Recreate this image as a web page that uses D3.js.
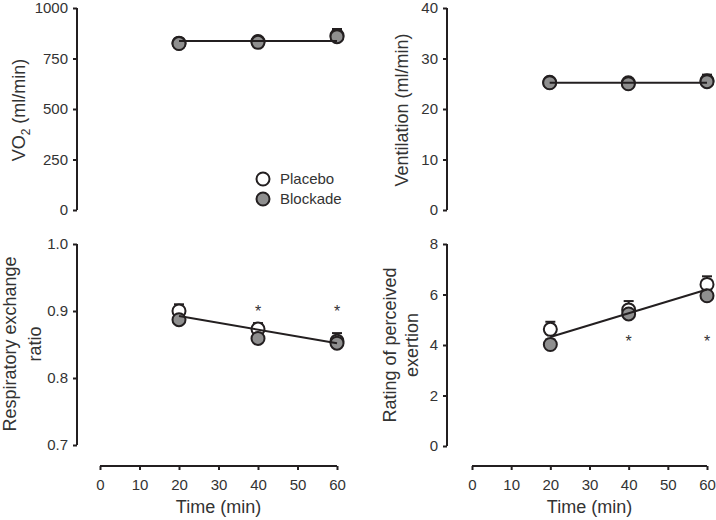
<!DOCTYPE html>
<html><head><meta charset="utf-8">
<script src="https://cdn.jsdelivr.net/npm/d3@7"></script>
<style>body{margin:0;background:#fff}svg{display:block}</style>
</head><body>
<svg id="c" width="716" height="520"></svg>
<script>
const times = [20, 40, 60];
const xTicks = [0, 10, 20, 30, 40, 50, 60];

const vo2Placebo = [826, 834, 864];
const vo2PlaceboSem = [22, 22, 32];
const vo2Blockade = [824, 830, 858];
const vo2BlockadeSem = [12, 12, 18];
const vo2Trend = [837, 837];
const vo2Ticks = [0, 250, 500, 750, 1000];

const vePlacebo = [25.3, 25.2, 25.6];
const vePlaceboSem = [0.5, 0.5, 1.2];
const veBlockade = [25.2, 25.0, 25.4];
const veBlockadeSem = [0.4, 0.4, 0.8];
const veTrend = [25.2, 25.2];
const veTicks = [0, 10, 20, 30, 40];

const rerPlacebo = [0.900, 0.873, 0.855];
const rerPlaceboSem = [0.010, 0.009, 0.012];
const rerBlockade = [0.887, 0.859, 0.852];
const rerBlockadeSem = [0.005, 0.005, 0.006];
const rerTrend = [0.8925, 0.852];
const rerTicks = [0.7, 0.8, 0.9, 1.0];
const rerStars = [40, 60];
const rerStarLevel = 0.905;

const rpePlacebo = [4.62, 5.39, 6.40];
const rpePlaceboSem = [0.30, 0.35, 0.32];
const rpeBlockade = [4.02, 5.23, 5.95];
const rpeBlockadeSem = [0.2, 0.2, 0.2];
const rpeTrend = [4.32, 6.2];
const rpeTicks = [0, 2, 4, 6, 8];
const rpeStars = [40, 60];
const rpeStarLevel = 4.28;

const svg = d3.select("#c");
const FONT = "Liberation Sans, Arial, Helvetica, sans-serif";
const INK = "#231f20";
const TXT = "#333";
const GRAY = "#8f8f8f";

function panel(o) {
  const x = d3.scaleLinear().domain([0, 60]).range([o.x0, o.x1]);
  const y = d3.scaleLinear().domain(o.domain).range([o.yb, o.yt]);
  const g = svg.append("g");
  // y axis
  const ya = g.append("g").attr("transform", `translate(${o.ax},0)`)
    .call(d3.axisLeft(y).tickValues(o.ticks).tickSize(4).tickPadding(5).tickFormat(o.fmt));
  ya.select(".domain").attr("stroke", INK).attr("stroke-width", 2).attr("d", `M0,${o.yt}V${o.yb}`);
  ya.selectAll(".tick line").attr("stroke", INK).attr("stroke-width", 2);
  ya.selectAll(".tick text").attr("font-family", FONT).attr("font-size", 15).attr("fill", TXT);
  if (o.xaxis) {
    const xa = g.append("g").attr("transform", `translate(0,${o.xaxisY})`)
      .call(d3.axisBottom(x).tickValues(xTicks).tickSize(4).tickPadding(9));
    xa.select(".domain").attr("stroke", INK).attr("stroke-width", 2).attr("d", `M${o.x0},0H${o.x1}`);
    xa.selectAll(".tick line").attr("stroke", INK).attr("stroke-width", 2);
    xa.selectAll(".tick text").attr("font-family", FONT).attr("font-size", 15).attr("fill", TXT);
    g.append("text").attr("x", (o.x0 + o.x1) / 2).attr("y", 513).attr("text-anchor", "middle")
      .attr("font-family", FONT).attr("font-size", 18).attr("fill", TXT).text("Time (min)");
  }
  // y label
  const lab = g.append("text").attr("transform", `translate(${o.lx},${o.ly}) rotate(-90)`)
    .attr("text-anchor", "middle").attr("font-family", FONT).attr("font-size", 18).attr("fill", TXT);
  o.label(lab);

  // error bars (upper only)
  function ebars(vals, sem) {
    const eg = g.append("g");
    times.forEach((t, i) => {
      const cx = x(t), yv = y(vals[i]), yt = y(vals[i] + sem[i]);
      eg.append("line").attr("x1", cx).attr("x2", cx).attr("y1", yv).attr("y2", yt)
        .attr("stroke", INK).attr("stroke-width", 2);
      eg.append("line").attr("x1", cx - 5).attr("x2", cx + 5).attr("y1", yt).attr("y2", yt)
        .attr("stroke", INK).attr("stroke-width", 2);
    });
  }
  ebars(o.pl, o.plS);
  ebars(o.bl, o.blS);
  g.append("g").selectAll("circle").data(o.pl).join("circle")
    .attr("cx", (d, i) => x(times[i])).attr("cy", d => y(d)).attr("r", 6.5)
    .attr("fill", "#fff").attr("stroke", INK).attr("stroke-width", 2);
  g.append("g").selectAll("circle").data(o.bl).join("circle")
    .attr("cx", (d, i) => x(times[i])).attr("cy", d => y(d)).attr("r", 6.5)
    .attr("fill", GRAY).attr("stroke", INK).attr("stroke-width", 2);
  // trend line
  g.append("line").attr("x1", x(20)).attr("x2", x(60)).attr("y1", y(o.trend[0])).attr("y2", y(o.trend[1]))
    .attr("stroke", INK).attr("stroke-width", 2);
  if (o.stars) {
    g.append("g").selectAll("text").data(o.stars).join("text")
      .attr("x", d => x(d)).attr("y", y(o.starLevel) + 9).attr("text-anchor", "middle")
      .attr("font-family", FONT).attr("font-size", 16).attr("fill", TXT).text("*");
  }
  return {x, y, g};
}

const p1 = panel({x0: 100, x1: 337, ax: 77, yt: 8, yb: 210, domain: [0, 1000], ticks: vo2Ticks,
  fmt: d3.format("d"), pl: vo2Placebo, plS: vo2PlaceboSem, bl: vo2Blockade, blS: vo2BlockadeSem,
  trend: vo2Trend, lx: 25, ly: 110,
  label: t => { t.append("tspan").text("VO"); t.append("tspan").attr("font-size", 12).attr("dy", 5).text("2");
    t.append("tspan").attr("dy", -5).text(" (ml/min)"); }});

const p2 = panel({x0: 471, x1: 707, ax: 447, yt: 8, yb: 210, domain: [0, 40], ticks: veTicks,
  fmt: d3.format("d"), pl: vePlacebo, plS: vePlaceboSem, bl: veBlockade, blS: veBlockadeSem,
  trend: veTrend, lx: 408, ly: 110, label: t => t.text("Ventilation (ml/min)")});

const p3 = panel({x0: 100, x1: 337, ax: 77, yt: 244, yb: 445, domain: [0.7, 1.0], ticks: rerTicks,
  fmt: d3.format(".1f"), pl: rerPlacebo, plS: rerPlaceboSem, bl: rerBlockade, blS: rerBlockadeSem,
  trend: rerTrend, lx: 0, ly: 344, xaxis: true, xaxisY: 466, stars: rerStars, starLevel: rerStarLevel,
  label: t => { t.append("tspan").attr("x", 0).attr("y", 16).text("Respiratory exchange");
    t.append("tspan").attr("x", 0).attr("y", 41).text("ratio"); }});

const p4 = panel({x0: 472, x1: 707, ax: 447, yt: 244, yb: 446, domain: [0, 8], ticks: rpeTicks,
  fmt: d3.format("d"), pl: rpePlacebo, plS: rpePlaceboSem, bl: rpeBlockade, blS: rpeBlockadeSem,
  trend: rpeTrend, lx: 0, ly: 345, xaxis: true, xaxisY: 466, stars: rpeStars, starLevel: rpeStarLevel,
  label: t => { t.attr("transform", `translate(358,345) rotate(-90)`);
    t.append("tspan").attr("x", 0).attr("y", 38).text("Rating of perceived");
    t.append("tspan").attr("x", 0).attr("y", 60).text("exertion"); }});

// legend
const legend = svg.append("g");
const legItems = [["Placebo", "#fff"], ["Blockade", GRAY]];
legItems.forEach((d, i) => {
  const yy = 179 + i * 20;
  legend.append("circle").attr("cx", 263).attr("cy", yy).attr("r", 6.5)
    .attr("fill", d[1]).attr("stroke", INK).attr("stroke-width", 2);
  legend.append("text").attr("x", 280).attr("y", yy + 5).attr("font-family", FONT)
    .attr("font-size", 15).attr("fill", TXT).text(d[0]);
});
</script>
</body></html>
